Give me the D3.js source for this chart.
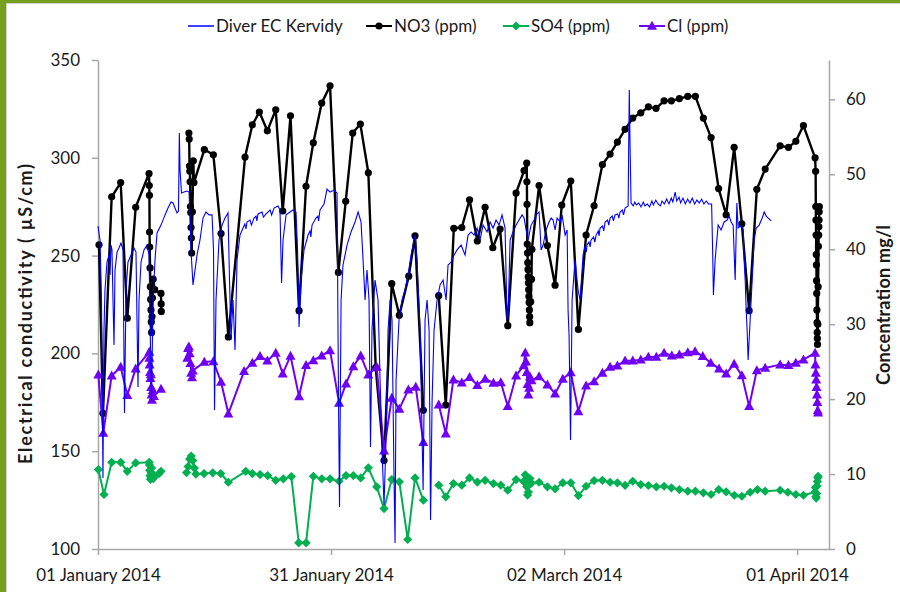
<!DOCTYPE html>
<html>
<head>
<meta charset="utf-8">
<script src="https://cdnjs.cloudflare.com/ajax/libs/d3/7.8.5/d3.min.js"></script>
<style>
body { margin: 0; background: #fff; }
svg text { font-family: Lato, "Open Sans", sans-serif; fill: #1a1a1a; }
.axis path, .axis line { stroke: #a6a6a6; stroke-width: 1.5; }
.axis text { font-size: 17px; }
</style>
</head>
<body>
<div id="chart-area"></div>
<script>
// dates on the x axis, as days after 01 January 2014
var xTickDates = ["2014-01-01", "2014-01-31", "2014-03-02", "2014-04-01"];
var leftTicks = [100, 150, 200, 250, 300, 350];
var rightTicks = [0, 10, 20, 30, 40, 50, 60];
var seriesNames = ["Diver EC Kervidy", "NO3 (ppm)", "SO4 (ppm)", "Cl (ppm)"];

// [day, value]; null = break in the line
var ecKervidy = [[0,265.1],[0.26,258.0],[0.45,227.3],[0.64,136.3],[0.77,212.0],[0.90,232.4],[1.16,246.7],[1.42,250.3],[1.55,240.1],[1.67,255.4],[1.80,252.9],[1.93,227.3],[2.06,204.3],[2.19,242.6],[2.45,251.8],[2.70,253.9],[2.96,256.4],[3.22,252.9],[3.41,169.5],[3.61,232.4],[3.86,246.7],[4.25,250.3],[4.64,253.9],[4.89,251.8],[5.15,182.8],[5.28,227.3],[5.54,246.7],[5.92,252.9],[6.31,255.4],[6.57,250.3],[6.76,201.8],[6.89,176.2],[7.08,227.3],[7.34,247.8],[7.60,261.6],[8.11,265.6],[8.63,270.8],[9.01,274.3],[9.40,277.4],[9.66,276.9],[9.91,274.3],[10.17,271.8],[10.36,272.8],[10.47,312.7],[10.56,293.8],[10.75,282.0],[11.07,282.5],[11.46,283.0],[11.72,282.5],[11.84,270.8],[11.97,252.9],[12.23,235.0],[12.49,242.6],[12.75,250.3],[13.13,258.0],[13.52,269.2],[13.90,272.3],[14.29,270.8],[14.68,270.8],[14.87,252.9],[15.00,171.1],[15.19,227.3],[15.58,258.0],[15.97,265.6],[16.35,269.2],[16.74,271.8],[16.93,237.5],[17.12,206.9],[17.38,227.3],[17.64,201.8],[17.90,247.8],[18.28,260.5],[18.67,264.1],[18.9,266.2],[19.05,263.6],[19.18,267.2],[19.57,268.2],[19.75,265.6],[20.09,269.2],[20.35,270.2],[20.45,267.7],[20.60,271.3],[21.12,272.3],[21.3,269.7],[21.63,271.3],[22.15,273.3],[22.35,270.8],[22.66,274.3],[23.18,275.4],[23.43,273.3],[23.63,236.0],[23.82,258.0],[24.21,270.8],[24.72,272.3],[25.11,273.3],[25.49,272.3],[25.69,252.9],[25.88,213.5],[26.14,237.5],[26.52,252.9],[27.04,260.5],[27.3,262.6],[27.4,259.5],[27.55,265.6],[28.07,269.2],[28.3,270.2],[28.4,267.7],[28.58,273.3],[29.10,276.4],[29.48,284.0],[29.87,282.5],[30.39,283.5],[30.77,282.0],[30.96,176.2],[31.09,121.5],[31.29,227.3],[31.54,245.2],[32.06,255.4],[32.57,262.1],[33.09,267.2],[33.48,272.3],[33.86,267.2],[34.12,247.8],[34.38,227.3],[34.63,242.6],[34.89,227.3],[35.08,152.2],[35.27,212.0],[35.66,237.5],[36.05,227.3],[36.31,186.4],[36.56,150.6],[36.82,122.5],[37.08,155.7],[37.34,212.0],[37.60,227.3],[37.85,217.1],[38.11,135.3],[38.24,103.1],[38.37,186.4],[38.75,217.1],[39.14,227.3],[39.53,232.4],[39.91,240.1],[40.30,250.3],[40.56,255.4],[40.82,260.5],[41.07,247.8],[41.46,212.0],[41.85,130.2],[42.10,217.1],[42.36,227.3],[42.62,212.0],[42.81,114.8],[43.01,176.2],[43.26,212.0],[43.65,227.3],[44.03,235.0],[44.42,237.5],[44.81,227.3],[45.06,245.2],[45.45,246.7],[45.84,250.3],[46.22,252.9],[46.74,255.4],[47.25,250.3],[47.64,260.5],[48.03,262.1],[48.41,260.5],[48.80,264.1],[49.18,258.0],[49.57,265.6],[50.08,262.1],[50.47,267.2],[50.86,264.1],[51.24,268.2],[51.63,265.6],[52.01,270.8],[52.40,264.1],[52.66,217.1],[52.79,219.6],[53.05,258.0],[53.43,262.1],[53.82,265.6],[54.20,268.2],[54.59,270.8],[54.85,269.2],[55.11,263.1],[55.36,258.0],[55.75,265.6],[56.14,268.2],[56.40,270.8],[56.78,272.3],[57.04,252.9],[57.30,255.4],[57.68,263.1],[58.07,267.2],[58.33,269.2],[58.58,268.2],[58.84,263.1],[59.10,269.2],[59.49,267.2],[59.74,270.8],[60.13,260.5],[60.39,263.1],[60.51,222.2],[60.64,209.4],[60.83,155.7],[61.03,227.3],[61.41,247.8],[61.80,232.4],[62.06,227.3],[62.44,250.3],[62.7,254.9],[62.85,251.8],[62.96,255.4],[63.2,257.0],[63.35,254.4],[63.47,258.0],[63.8,259.5],[63.95,256.9],[64.12,260.5],[64.4,262.6],[64.5,260.0],[64.63,264.1],[64.95,265.1],[65.1,262.6],[65.28,267.2],[65.6,268.2],[65.75,265.6],[65.92,269.2],[66.2,270.2],[66.35,267.7],[66.56,270.8],[66.9,271.3],[67.05,269.2],[67.21,272.3],[67.5,273.3],[67.65,270.8],[67.85,274.3],[68.24,275.4],[68.39,334.7],[68.50,304.0],[68.62,276.9],[68.9,275.4],[69.1,277.4],[69.3,275.9],[69.6,276.9],[69.9,274.9],[70.2,277.4],[70.4,275.4],[70.7,276.4],[71.0,274.9],[71.3,277.9],[71.5,275.9],[71.8,278.4],[72.1,276.4],[72.4,275.4],[72.6,277.9],[72.9,276.4],[73.2,278.9],[73.5,276.4],[73.8,279.4],[74.0,277.4],[74.3,282.5],[74.5,277.9],[74.8,279.9],[75.0,276.9],[75.3,279.4],[75.6,276.4],[75.9,278.9],[76.2,276.9],[76.5,279.4],[76.8,276.4],[77.1,278.4],[77.4,276.9],[77.7,278.9],[78.0,276.4],[78.3,277.9],[78.6,276.4],[78.99,276.4],[79.12,252.9],[79.22,229.9],[79.44,247.8],[79.83,265.6],[80.21,263.1],[80.60,267.2],[80.99,268.2],[81.25,270.2],[81.50,267.2],[81.76,265.6],[82.02,237.5],[82.24,276.9],[82.40,264.1],[82.79,265.6],[83.05,263.1],[83.18,247.8],[83.31,237.5],[83.44,222.2],[83.56,212.0],[83.69,196.6],[83.95,217.1],[84.21,237.5],[84.47,258.0],[84.73,264.1],[85.11,265.6],[85.50,269.2],[85.76,272.3],[86.02,270.2],[86.27,269.2],[86.66,267.7]];

var no3 = [[0.13,40.6],[0.64,18.1],[1.76,47.0],[2.92,48.9],[3.77,30.8],[4.85,45.6],[6.57,50.1],[6.60,48.5],[6.62,47.2],[6.64,42.3],[6.66,40.3],[6.70,37.5],[6.74,35.0],[6.78,33.3],[6.82,31.9],[6.86,30.3],[6.90,28.9],[6.95,31.0],[7.00,33.5],[7.10,36.0],[7.30,34.6],[8.11,34.1],[8.13,32.7],[8.15,31.7],null,
  [11.70,55.5],[11.74,54.7],[11.78,51.1],[11.82,50.4],[11.86,49.0],[11.90,45.7],[11.94,44.9],[11.98,42.9],[12.02,41.5],[12.06,39.5],[12.15,45.0],[12.27,51.8],[12.35,48.9],[13.69,53.3],[14.85,52.6],[15.84,42.1],[16.78,28.3],[18.93,52.3],[19.87,56.6],[20.77,58.3],[21.80,55.8],[22.88,58.6],[23.78,45.1],[24.78,57.8],[25.88,31.8],[26.78,48.4],[27.72,54.2],[28.80,59.5],[29.87,61.8],[30.94,36.9],[31.89,46.4],[32.79,55.5],[33.77,56.7],[34.80,50.2],[35.75,24.2],[36.82,11.8],[37.81,35.4],[38.79,31.2],[40.00,36.4],[40.81,41.8],[41.88,18.5],null,
  [43.86,33.8],[44.77,19.2],[45.80,42.8],[46.83,42.9],[47.83,46.6],[48.83,41.1],[49.83,45.6],[50.82,40.2],[51.76,42.7],[52.75,29.8],[53.82,47.5],[54.85,50.5],[55.19,51.5],[55.21,49.0],[55.23,46.0],[55.26,40.7],[55.29,39.5],[55.32,38.2],[55.35,37.3],[55.38,36.3],[55.41,35.5],[55.44,34.6],[55.47,33.7],[55.50,32.9],[55.53,31.9],[55.56,31.0],[55.59,30.2],[55.70,33.0],[55.80,36.0],[55.85,40.0],[56.78,48.5],[57.85,40.5],[58.84,35.2],[59.70,45.9],[60.86,49.1],[61.84,29.3],[62.83,41.9],[63.86,45.8],[64.93,51.3],[65.92,52.7],[66.86,54.3],[67.85,56.0],[68.84,57.5],[69.87,58.2],[70.85,59.0],[71.84,58.8],[72.87,59.8],[73.81,59.8],[74.84,60.1],[75.92,60.4],[76.90,60.4],[77.93,57.5],[78.92,54.9],[79.89,48.1],[80.86,44.6],[81.89,53.6],[82.88,43.4],[83.82,31.8],[84.81,48.0],[85.88,50.7],[87.81,53.8],[88.88,53.6],[89.83,54.4],[90.81,56.5],[92.31,52.2],[92.38,50.4],[92.40,45.7],[92.42,43.9],[92.44,41.9],[92.46,39.3],[92.48,37.9],[92.50,35.8],[92.52,34.1],[92.54,31.9],[92.56,30.2],[92.58,28.9],[92.60,28.1],[92.62,27.3],[92.66,30.0],[92.70,35.0],[92.74,40.4],[92.78,41.9],[92.80,43.0],[92.82,43.9],[92.84,45.0],[92.86,45.7]];

var so4 = [[0.05,10.6],[0.77,7.27],[1.76,11.57],[2.92,11.57],[3.77,10.37],[4.85,11.49],[6.60,11.57],[6.62,11.2],[6.65,10.5],[6.70,9.8],[6.75,9.3],[6.80,9.6],[6.85,10.2],[6.90,10.8],[7.00,10.0],[7.10,9.4],[7.20,9.6],[7.85,10.07],[8.11,10.37],null,
  [11.4,10.2],[11.6,11.0],[11.8,12.0],[12.0,12.4],[12.2,11.8],[12.4,10.8],[12.6,10.0],[13.65,10.07],[14.77,10.16],[15.80,10.07],[16.78,8.91],[19.02,10.37],[19.87,10.07],[20.86,9.93],[21.85,9.80],[22.88,9.17],[23.86,9.36],[24.89,9.67],[25.84,0.83],[26.78,0.83],[27.72,9.71],[28.80,9.36],[29.87,9.36],[31.03,9.04],[31.93,9.80],[32.87,9.80],[33.82,9.49],[34.80,10.83],[35.88,8.29],[36.82,5.40],[37.81,9.27],[38.79,8.96],[39.87,1.27],[40.81,9.49],[41.88,6.51],null,
  [43.86,8.51],[44.77,6.96],[45.75,8.73],[46.83,8.51],[47.83,9.49],[48.83,8.93],[49.83,9.17],[50.90,8.73],[51.85,8.51],[52.75,7.84],[53.82,9.27],[54.8,9.0],[55.0,9.9],[55.1,9.3],[55.2,8.3],[55.3,7.2],[55.4,7.6],[55.5,8.6],[55.6,9.4],[55.8,8.8],[56.78,8.91],[57.85,8.29],[58.84,8.03],[59.83,8.83],[60.86,8.83],[61.84,7.13],[62.83,8.37],[63.86,9.13],[64.93,9.17],[65.92,8.91],[66.86,8.83],[67.85,8.49],[68.84,9.04],[69.87,8.60],[70.85,8.47],[71.87,8.29],[72.87,8.37],[73.81,8.16],[74.84,7.93],[75.92,7.71],[76.90,7.71],[77.93,7.49],[78.92,7.27],[79.91,7.93],[80.86,7.63],[81.92,7.17],[82.88,7.04],[83.95,7.57],[84.89,7.93],[85.88,7.71],[87.81,7.84],[88.80,7.57],[89.83,7.27],[90.81,7.17],[92.3,7.6],[92.35,8.2],[92.4,7.0],[92.45,6.8],[92.5,7.4],[92.55,8.4],[92.6,9.0],[92.65,9.5],[92.7,9.7]];

var cl = [[0.04,23.27],[0.68,15.49],[1.76,23.13],[2.92,24.29],[3.77,20.51],[4.85,24.07],[6.60,26.29],[6.62,25.5],[6.65,24.6],[6.70,23.6],[6.75,22.8],[6.80,23.3],[6.85,21.6],[6.90,20.6],[6.95,19.9],[7.05,21.2],[7.20,20.4],[8.11,21.36],null,
  [11.5,25.5],[11.6,26.8],[11.7,27.0],[11.8,26.1],[11.9,24.8],[12.0,23.5],[12.1,22.9],[12.2,23.8],[13.69,24.96],[14.85,25.04],[15.84,22.29],[16.78,18.07],[18.80,23.71],[19.87,24.83],[20.86,25.71],[21.80,25.13],[22.88,26.16],[23.78,23.40],[24.78,25.76],[25.88,20.37],[26.78,24.51],[27.72,25.17],[28.80,25.80],[29.87,26.51],[31.03,19.49],[31.93,22.07],[32.87,24.37],[33.82,25.80],[34.80,23.27],[35.88,24.29],[36.82,13.13],[37.81,20.16],[38.79,18.69],[39.95,21.27],[40.90,21.63],[41.88,14.24],null,
  [43.86,19.27],[44.77,15.40],[45.75,22.60],[46.83,22.20],[47.83,22.91],[48.83,21.87],[49.83,22.69],[50.90,22.16],[51.85,22.24],[52.75,19.04],[53.82,23.13],[54.8,24.5],[55.0,26.2],[55.1,25.0],[55.2,23.6],[55.3,22.0],[55.4,20.6],[55.5,21.5],[55.6,23.0],[55.8,22.5],[56.78,23.04],[57.85,21.93],[58.84,20.73],[59.83,22.69],[60.86,23.57],[61.84,18.37],[62.83,21.80],[63.86,22.37],[64.93,23.49],[65.92,24.29],[66.86,24.47],[67.85,25.13],[68.84,25.13],[69.87,25.27],[70.85,25.63],[71.87,25.63],[72.87,26.16],[73.86,25.80],[74.84,25.93],[75.92,26.24],[76.86,26.37],[77.85,25.71],[78.88,24.83],[79.95,24.07],[80.86,23.40],[81.89,24.69],[82.88,23.17],[83.82,19.04],[84.81,23.84],[85.88,24.16],[87.81,24.60],[88.88,24.51],[89.83,24.83],[90.81,25.27],[92.31,26.16],[92.35,24.6],[92.4,23.5],[92.45,22.6],[92.5,21.6],[92.55,20.6],[92.6,19.6],[92.65,18.5],[92.7,18.2]];

var margin = { left: 98, right: 71, top: 60, bottom: 43 };
var w = 900 - margin.left - margin.right;
var h = 592 - margin.top - margin.bottom;
var t0 = Date.UTC(2014, 0, 1);
var toDate = (d) => new Date(t0 + d * 864e5);

var svg = d3.select("#chart-area").append("svg")
    .attr("width", 900)
    .attr("height", 592);

// frame
svg.append("rect").attr("width", 900).attr("height", 592).attr("fill", "#75a01e");
svg.append("rect")
    .attr("x", 6.5).attr("y", 3.5)
    .attr("width", 900).attr("height", 600)
    .attr("fill", "#fff")
    .attr("stroke", "#d0d0d0");

var group = svg.append("g")
    .attr("transform", "translate(" + margin.left + ", " + margin.top + ")");

var x = d3.scaleUtc()
    .domain([toDate(0), toDate(94.1)])
    .range([0, w]);

var yLeft = d3.scaleLinear().domain([100, 350]).range([h, 0]);
var yRight = d3.scaleLinear().domain([0, 65.25]).range([h, 0]);

// axes
var fmt = d3.utcFormat("%d %B %Y");
group.append("g")
    .attr("class", "bottom axis")
    .attr("transform", "translate(0, " + h + ")")
    .call(d3.axisBottom(x)
        .tickValues(xTickDates.map((s) => new Date(s + "T00:00:00Z")))
        .tickFormat(fmt)
        .tickSize(6).tickSizeOuter(0).tickPadding(7))
    .selectAll("text").attr("dy", "1.1em");

group.append("g")
    .attr("class", "left axis")
    .call(d3.axisLeft(yLeft).tickValues(leftTicks).tickSize(6).tickSizeOuter(0).tickPadding(12));

group.append("g")
    .attr("class", "right axis")
    .attr("transform", "translate(" + w + ", 0)")
    .call(d3.axisRight(yRight).tickValues(rightTicks).tickSize(6).tickSizeOuter(0).tickPadding(11));

// series
var lineR = d3.line()
    .defined((d) => d !== null)
    .x((d) => x(toDate(d[0])))
    .y((d) => yRight(d[1]));

var lineL = d3.line()
    .x((d) => x(toDate(d[0])))
    .y((d) => yLeft(d[1]));

var shapes = {
    circle: "M3.6,0A3.6,3.6 0 1,1 -3.6,0A3.6,3.6 0 1,1 3.6,0Z",
    diamond: "M0,-4.6L4.6,0L0,4.6L-4.6,0Z",
    triangle: "M0,-5.2L5,3.8L-5,3.8Z"
};

var rightSeries = [
    { data: no3, color: "#000000", width: 2.4, shape: "circle" },
    { data: so4, color: "#00b050", width: 2, shape: "diamond" },
    { data: cl, color: "#7000f5", width: 2, shape: "triangle" }
];

rightSeries.forEach((s) => {
    group.append("path")
        .attr("d", lineR(s.data))
        .attr("fill", "none")
        .attr("stroke", s.color)
        .attr("stroke-width", s.width)
        .attr("stroke-linejoin", "round");
    group.selectAll(null)
        .data(s.data.filter((d) => d !== null))
        .enter()
        .append("path")
            .attr("d", shapes[s.shape])
            .attr("transform", (d) => "translate(" + x(toDate(d[0])) + "," + yRight(d[1]) + ")")
            .attr("fill", s.color);
});

group.append("path")
    .attr("d", lineL(ecKervidy))
    .attr("fill", "none")
    .attr("stroke", "#0000ff")
    .attr("stroke-width", 1.1);

// legend
var legendX = [188, 366, 503, 639];
var legendColors = ["#0000ff", "#000000", "#00b050", "#7000f5"];
var legendShapes = [null, "circle", "diamond", "triangle"];
var legend = svg.append("g").attr("transform", "translate(0, 26)");
seriesNames.forEach((name, i) => {
    var item = legend.append("g").attr("transform", "translate(" + legendX[i] + ", 0)");
    item.append("line")
        .attr("x1", 0).attr("x2", 26)
        .attr("stroke", legendColors[i])
        .attr("stroke-width", i === 0 ? 1.5 : 2);
    if (legendShapes[i]) {
        item.append("path")
            .attr("d", shapes[legendShapes[i]])
            .attr("transform", "translate(13,0)")
            .attr("fill", legendColors[i]);
    }
    item.append("text")
        .attr("x", 28)
        .attr("dy", "0.36em")
        .attr("font-size", "17px")
        .text(name);
});

// axis titles
svg.append("text")
    .attr("transform", "translate(26, 314) rotate(-90)")
    .attr("text-anchor", "middle")
    .attr("dy", "0.35em")
    .attr("font-size", "18px")
    .attr("font-weight", "bold")
    .attr("textLength", 300)
    .attr("lengthAdjust", "spacing")
    .text("Electrical conductivity ( µS/cm)");

svg.append("text")
    .attr("transform", "translate(884, 305) rotate(-90)")
    .attr("text-anchor", "middle")
    .attr("dy", "0.35em")
    .attr("font-size", "18px")
    .attr("font-weight", "bold")
    .attr("textLength", 160)
    .attr("lengthAdjust", "spacing")
    .text("Concentration mg/l");
</script>
</body>
</html>
